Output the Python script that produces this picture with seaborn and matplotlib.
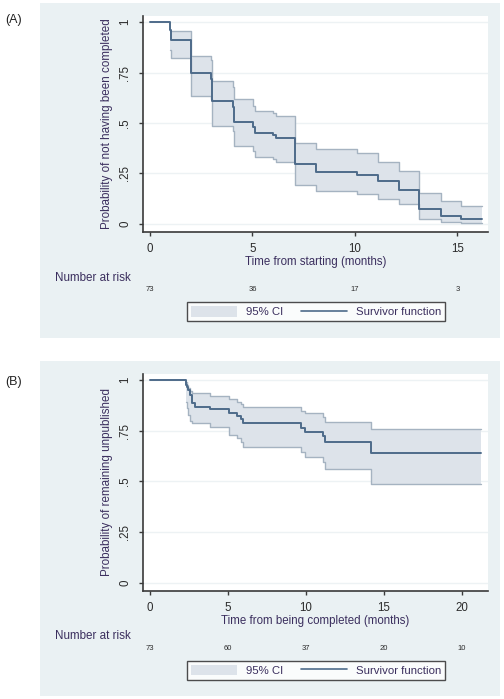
import numpy as np
import pandas as pd
import matplotlib
matplotlib.use("Agg")
import matplotlib.pyplot as plt
import matplotlib.transforms as mtrans
from matplotlib.patches import Rectangle, Patch
from matplotlib.lines import Line2D
import seaborn as sns

# ---------------- data ----------------
time_a = [0, 1.0, 1.05, 2.0, 3.0, 3.05, 4.03, 4.1, 5.04, 5.1, 6.0, 6.13, 7.07, 8.08,
          10.1, 11.1, 12.13, 13.14, 14.2, 15.17, 16.2]
surv_a = [1, 0.96, 0.91, 0.749, 0.72, 0.61, 0.58, 0.505, 0.48, 0.452, 0.44, 0.424, 0.297, 0.257,
          0.244, 0.213, 0.168, 0.076, 0.041, 0.025, 0.025]
upper_a = [np.nan, 0.955, 0.955, 0.833, 0.81, 0.709, 0.68, 0.617, 0.585, 0.561, 0.551, 0.535, 0.403, 0.373,
           0.35, 0.307, 0.264, 0.155, 0.112, 0.091, 0.091]
lower_a = [np.nan, 0.86, 0.823, 0.634, 0.62, 0.485, 0.46, 0.386, 0.36, 0.333, 0.322, 0.309, 0.193, 0.163,
           0.15, 0.124, 0.098, 0.025, 0.008, 0.003, 0.003]
risk_times_a = [0, 5, 10, 15]
risk_n_a = [73, 36, 17, 3]

time_b = [0, 2.29, 2.35, 2.45, 2.55, 2.7, 2.91, 3.85, 5.04, 5.55, 5.81, 5.98, 9.66, 9.94,
          11.07, 11.24, 14.15, 21.24]
surv_b = [1, 0.977, 0.965, 0.950, 0.926, 0.885, 0.868, 0.857, 0.835, 0.822, 0.806, 0.786, 0.761, 0.744,
          0.725, 0.695, 0.638, 0.638]
upper_b = [np.nan, 0.99, 0.975, 0.96, 0.945, 0.934, 0.934, 0.921, 0.906, 0.893, 0.88, 0.865, 0.848, 0.835,
           0.819, 0.794, 0.756, 0.756]
lower_b = [np.nan, 0.89, 0.86, 0.83, 0.80, 0.786, 0.786, 0.769, 0.728, 0.712, 0.695, 0.670, 0.646, 0.621,
           0.596, 0.562, 0.489, 0.489]
risk_times_b = [0, 5, 10, 15, 20]
risk_n_b = [73, 60, 37, 20, 10]

ytick_vals = [0, 0.25, 0.5, 0.75, 1]
ytick_labels = ["0", ".25", ".5", ".75", "1"]

# ---------------- style ----------------
sns.set_theme(style="white")
plt.rcParams["font.family"] = ["Liberation Sans", "DejaVu Sans"]

W, H = 504, 699
fig = plt.figure(figsize=(W / 100, H / 100), dpi=100)
fig.patch.set_facecolor("white")

BG = "#eaf1f3"
LINE = "#4e6b8a"
FILL = "#dde3ea"
EDGE = "#a5b3c1"
LABEL = "#3b2f5e"
TICK = "#2b2b2b"


def fx(px):
    return px / W


def fy(py):
    return 1 - py / H


def panel(bg_top, bg_bot, ax_top, ax_bot, t, s, lo, hi, xlim, xticks, xlabel, ylabel,
          risk_t, risk_n, tag, tag_y):
    fig.patches.append(Rectangle((fx(40), fy(bg_bot)), fx(460), (bg_bot - bg_top) / H,
                                 transform=fig.transFigure, facecolor=BG, edgecolor="none",
                                 zorder=-10))
    ax = fig.add_axes([fx(143), fy(ax_bot), fx(488 - 143), (ax_bot - ax_top) / H])
    ax.set_zorder(1)
    ax.set_facecolor("white")
    df = pd.DataFrame({"t": t, "s": s, "lo": lo, "hi": hi})
    ax.fill_between(df["t"], df["lo"], df["hi"], step="post", color=FILL, linewidth=0, zorder=2)
    sns.lineplot(data=df, x="t", y="lo", drawstyle="steps-post", color=EDGE, lw=1.0, ax=ax,
                 estimator=None, zorder=3)
    sns.lineplot(data=df, x="t", y="hi", drawstyle="steps-post", color=EDGE, lw=1.0, ax=ax,
                 estimator=None, zorder=3)
    sns.lineplot(data=df, x="t", y="s", drawstyle="steps-post", color=LINE, lw=1.4, ax=ax,
                 estimator=None, zorder=4)
    ax.set_xlim(*xlim)
    ax.set_ylim(-0.04, 1.03)
    ax.set_yticks(ytick_vals)
    ax.set_yticklabels(ytick_labels, rotation=90, va="center", fontsize=8.3, color=TICK)
    ax.set_xticks(xticks)
    ax.set_xticklabels([str(v) for v in xticks], fontsize=8.3, color=TICK)
    ax.yaxis.grid(True, color="#edf2f4", lw=1.0)
    ax.xaxis.grid(False)
    ax.set_axisbelow(True)
    for side in ["top", "right"]:
        ax.spines[side].set_visible(False)
    for side in ["left", "bottom"]:
        ax.spines[side].set_color("#3a3a3a")
        ax.spines[side].set_linewidth(1.2)
    ax.tick_params(axis="y", direction="out", length=3, width=1, color="#3a3a3a", pad=5.5, left=True)
    ax.tick_params(axis="x", direction="out", length=3, width=1, color="#3a3a3a", pad=5, bottom=True)
    ax.set_xlabel(xlabel, fontsize=8.3, color=LABEL, labelpad=0.5)
    ax.set_ylabel(ylabel, fontsize=8.4, color=LABEL, labelpad=4.5)

    # number at risk
    fig.text(fx(55), fy(ax_bot + 45.7), "Number at risk", fontsize=8.4, color=LABEL,
             ha="left", va="center")
    trans = mtrans.blended_transform_factory(ax.transData, fig.transFigure)
    for xt, n in zip(risk_t, risk_n):
        ax.text(xt, fy(ax_bot + 57.3), str(n), transform=trans, fontsize=5.5, color=TICK,
                ha="center", va="center", clip_on=False)

    # legend
    handles = [Patch(facecolor=FILL, edgecolor="none"),
               Line2D([0], [0], color=LINE, lw=1.2)]
    leg = ax.legend(handles, ["95% CI", "Survivor function"], ncol=2, loc="center",
                    bbox_to_anchor=(fx(316), fy(ax_bot + 79.5)), bbox_transform=fig.transFigure,
                    fontsize=8.2, frameon=True, fancybox=False, handlelength=4.0, handleheight=1.1,
                    handletextpad=0.8, columnspacing=1.6, borderpad=0.35, borderaxespad=0)
    leg.get_frame().set_edgecolor("#222222")
    leg.get_frame().set_linewidth(1.0)
    leg.get_frame().set_facecolor("white")
    for txt in leg.get_texts():
        txt.set_color(LABEL)

    fig.text(fx(5), fy(tag_y), tag, fontsize=9, color="#222222", ha="left", va="center")
    return ax


panel(3, 338, 16, 232, time_a, surv_a, lower_a, upper_a, (-0.34, 16.49), [0, 5, 10, 15],
      "Time from starting (months)", "Probability of not having been completed",
      risk_times_a, risk_n_a, "(A)", 20)
panel(361, 696, 374, 590.7, time_b, surv_b, lower_b, upper_b, (-0.45, 21.67), [0, 5, 10, 15, 20],
      "Time from being completed (months)", "Probability of remaining unpublished",
      risk_times_b, risk_n_b, "(B)", 382)

fig.savefig("out.png", dpi=100)
